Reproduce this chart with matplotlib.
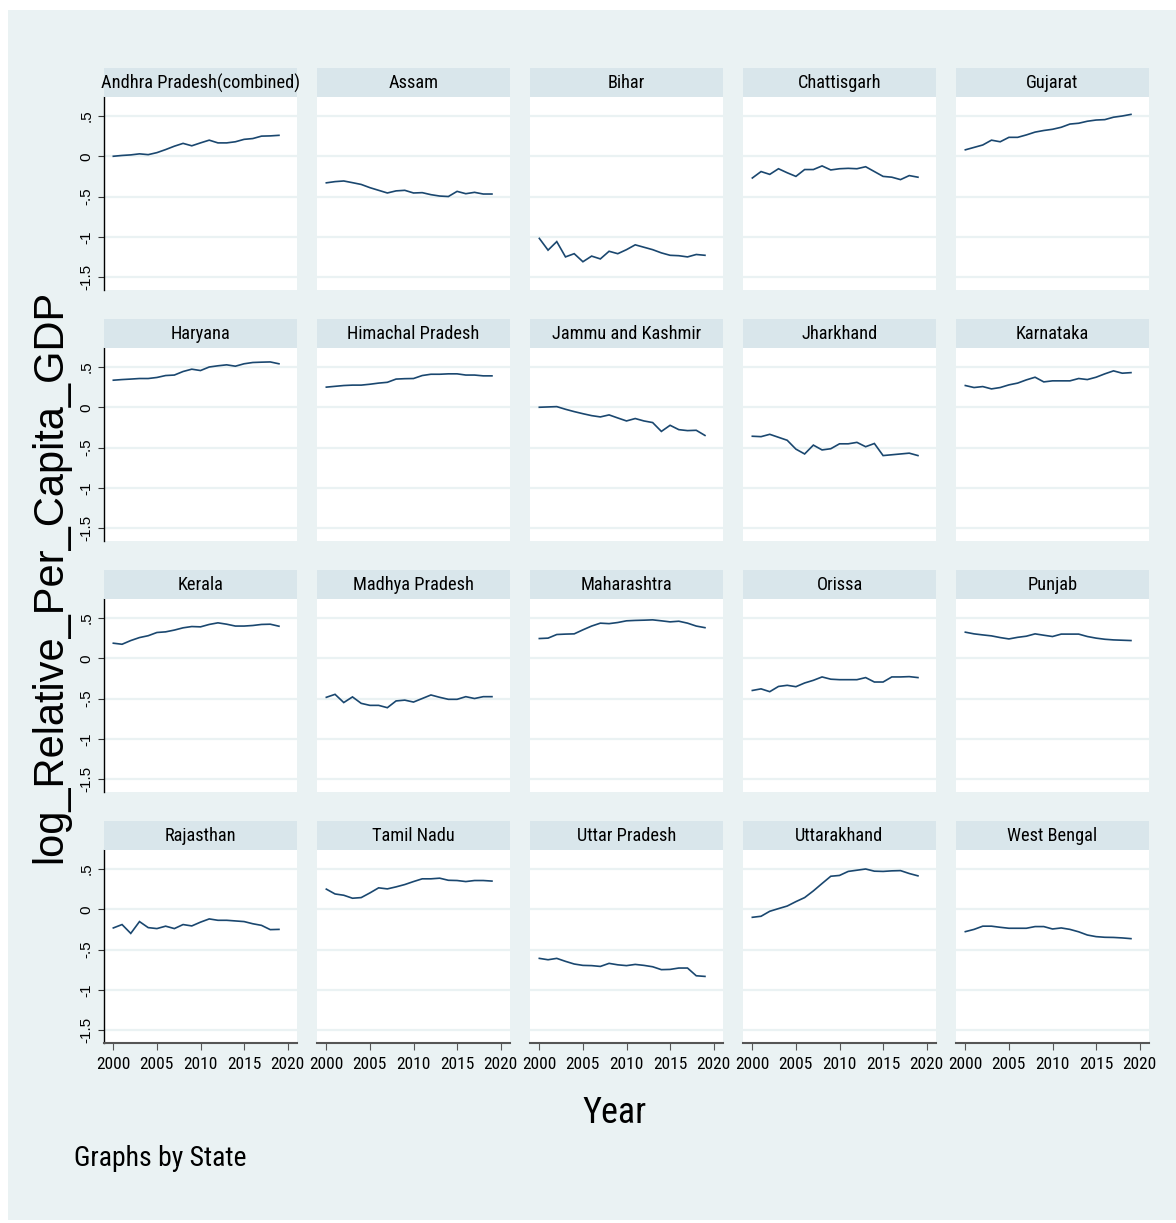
import matplotlib
matplotlib.use("Agg")
import matplotlib.pyplot as plt
from matplotlib.patches import Rectangle
from matplotlib import font_manager

years = list(range(2000, 2020))

states = ["Andhra Pradesh(combined)", "Assam", "Bihar", "Chattisgarh", "Gujarat",
          "Haryana", "Himachal Pradesh", "Jammu and Kashmir", "Jharkhand", "Karnataka",
          "Kerala", "Madhya Pradesh", "Maharashtra", "Orissa", "Punjab",
          "Rajasthan", "Tamil Nadu", "Uttar Pradesh", "Uttarakhand", "West Bengal"]

andhra = [0.00, 0.01, 0.017, 0.03, 0.02, 0.045, 0.083, 0.125, 0.16, 0.13,
          0.166, 0.20, 0.166, 0.166, 0.18, 0.21, 0.22, 0.25, 0.253, 0.26]
assam = [-0.33, -0.315, -0.307, -0.328, -0.35, -0.39, -0.423, -0.456, -0.43, -0.423,
         -0.456, -0.452, -0.477, -0.494, -0.50, -0.436, -0.465, -0.448, -0.469, -0.469]
bihar = [-1.02, -1.166, -1.06, -1.25, -1.21, -1.31, -1.24, -1.275, -1.18, -1.21,
         -1.16, -1.10, -1.13, -1.16, -1.20, -1.23, -1.235, -1.25, -1.22, -1.23]
chattisgarh = [-0.27, -0.19, -0.225, -0.155, -0.205, -0.25, -0.165, -0.165, -0.12, -0.17,
               -0.155, -0.15, -0.155, -0.13, -0.19, -0.25, -0.26, -0.29, -0.24, -0.26]
gujarat = [0.08, 0.11, 0.14, 0.20, 0.18, 0.235, 0.235, 0.265, 0.30, 0.32,
           0.335, 0.36, 0.40, 0.41, 0.435, 0.45, 0.455, 0.485, 0.50, 0.52]
haryana = [0.336, 0.344, 0.35, 0.357, 0.357, 0.37, 0.394, 0.40, 0.444, 0.473,
           0.456, 0.50, 0.515, 0.527, 0.51, 0.54, 0.556, 0.56, 0.563, 0.54]
himachal = [0.25, 0.26, 0.27, 0.275, 0.275, 0.286, 0.30, 0.31, 0.35, 0.355,
            0.357, 0.394, 0.41, 0.41, 0.415, 0.415, 0.40, 0.40, 0.39, 0.39]
jammu = [0.0, 0.004, 0.008, -0.025, -0.054, -0.08, -0.104, -0.12, -0.095, -0.133,
         -0.17, -0.14, -0.17, -0.19, -0.30, -0.224, -0.278, -0.29, -0.286, -0.35]
jharkhand = [-0.36, -0.365, -0.336, -0.373, -0.41, -0.52, -0.58, -0.47, -0.53, -0.515,
             -0.454, -0.454, -0.436, -0.49, -0.45, -0.60, -0.59, -0.58, -0.57, -0.60]
karnataka = [0.27, 0.245, 0.257, 0.228, 0.245, 0.278, 0.30, 0.34, 0.373, 0.315,
             0.328, 0.328, 0.328, 0.357, 0.344, 0.373, 0.415, 0.452, 0.423, 0.43]
kerala = [0.187, 0.174, 0.22, 0.257, 0.28, 0.32, 0.328, 0.35, 0.378, 0.394,
          0.39, 0.42, 0.44, 0.423, 0.40, 0.40, 0.407, 0.42, 0.423, 0.398]
madhya = [-0.485, -0.448, -0.55, -0.48, -0.56, -0.585, -0.585, -0.614, -0.53, -0.52,
          -0.544, -0.50, -0.456, -0.485, -0.51, -0.51, -0.477, -0.50, -0.477, -0.477]
maharashtra = [0.245, 0.25, 0.295, 0.30, 0.303, 0.353, 0.40, 0.436, 0.43, 0.444,
               0.465, 0.47, 0.473, 0.477, 0.465, 0.452, 0.46, 0.436, 0.40, 0.38]
orissa = [-0.40, -0.38, -0.415, -0.35, -0.336, -0.353, -0.307, -0.274, -0.232, -0.26,
          -0.266, -0.266, -0.266, -0.24, -0.295, -0.295, -0.232, -0.232, -0.228, -0.24]
punjab = [0.324, 0.303, 0.29, 0.278, 0.257, 0.24, 0.26, 0.274, 0.303, 0.286,
          0.27, 0.30, 0.30, 0.30, 0.27, 0.25, 0.236, 0.228, 0.224, 0.22]
rajasthan = [-0.232, -0.19, -0.30, -0.153, -0.228, -0.24, -0.21, -0.24, -0.19, -0.207,
             -0.16, -0.12, -0.137, -0.137, -0.145, -0.153, -0.18, -0.20, -0.253, -0.25]
tamil = [0.25, 0.19, 0.174, 0.137, 0.145, 0.203, 0.266, 0.253, 0.278, 0.307,
         0.344, 0.378, 0.378, 0.386, 0.36, 0.357, 0.344, 0.357, 0.357, 0.35]
uttar = [-0.61, -0.627, -0.61, -0.647, -0.68, -0.697, -0.70, -0.71, -0.672, -0.69,
         -0.70, -0.685, -0.697, -0.714, -0.75, -0.747, -0.73, -0.73, -0.826, -0.834]
uttarakhand = [-0.10, -0.087, -0.025, 0.008, 0.04, 0.095, 0.145, 0.228, 0.32, 0.41,
               0.42, 0.47, 0.485, 0.50, 0.473, 0.47, 0.477, 0.48, 0.444, 0.415]
westbengal = [-0.278, -0.25, -0.21, -0.21, -0.224, -0.236, -0.236, -0.236, -0.215, -0.215,
              -0.245, -0.232, -0.25, -0.28, -0.32, -0.34, -0.348, -0.35, -0.356, -0.365]

series = [andhra, assam, bihar, chattisgarh, gujarat,
          haryana, himachal, jammu, jharkhand, karnataka,
          kerala, madhya, maharashtra, orissa, punjab,
          rajasthan, tamil, uttar, uttarakhand, westbengal]

y_ticks = [0.5, 0, -0.5, -1, -1.5]
y_ticklabels = [".5", "0", "-.5", "-1", "-1.5"]
x_ticks = [2000, 2005, 2010, 2015, 2020]
x_ticklabels = ["2000", "2005", "2010", "2015", "2020"]

installed = {f.name for f in font_manager.fontManager.ttflist}
narrow_found = None
for cand in ["Liberation Sans Narrow", "Arial Narrow", "DejaVu Sans Condensed",
             "Roboto Condensed", "Open Sans Condensed"]:
    if cand in installed:
        narrow_found = cand
        break

REG = ["Liberation Sans", "DejaVu Sans"]
if narrow_found:
    NARROW = [narrow_found, "Liberation Sans", "DejaVu Sans"]
    scale = 1.0
else:
    NARROW = REG
    scale = 0.82

W, H = 1176, 1223
BG = "#EAF2F3"
STRIP = "#D9E6EB"
LINE = "#1A476F"

fig = plt.figure(figsize=(W / 100, H / 100), dpi=100, facecolor="white")
fig.patches.append(Rectangle((8 / W, 3 / H), (W - 8) / W, (H - 13) / H,
                             transform=fig.transFigure, facecolor=BG,
                             edgecolor="none", zorder=-10))

col_left = [104, 317, 530, 743, 956]
row_top = [97, 348, 599, 850]
pw, ph = 193, 193
strip_h = 29

for i, (name, vals) in enumerate(zip(states, series)):
    r, c = divmod(i, 5)
    l = col_left[c]
    t = row_top[r]
    ax = fig.add_axes([l / W, 1 - (t + ph) / H, pw / W, ph / H])
    ax.set_facecolor("white")
    ax.plot(years, vals, color=LINE, lw=1.2, solid_joinstyle="miter")
    ax.set_xlim(1998.93, 2021.07)
    ax.set_ylim(-1.661, 0.736)
    ax.set_yticks(y_ticks)
    ax.set_xticks(x_ticks)
    ax.yaxis.grid(True, color=BG, lw=1.6)
    ax.set_axisbelow(True)
    for s in ["top", "right"]:
        ax.spines[s].set_visible(False)
    if c == 0:
        ax.spines["left"].set_color("black")
        ax.spines["left"].set_linewidth(1.0)
        ax.set_yticklabels(y_ticklabels, rotation=90, va="center",
                           family=REG, fontsize=11)
        ax.tick_params(axis="y", length=4.5, width=0.8, pad=3, color="#333333")
    else:
        ax.spines["left"].set_visible(False)
        ax.tick_params(axis="y", left=False, labelleft=False)
    if r == 3:
        ax.spines["bottom"].set_color("#555555")
        ax.spines["bottom"].set_linewidth(1.5)
        ax.set_xticklabels(x_ticklabels, family=NARROW, fontsize=12.5 * scale)
        ax.tick_params(axis="x", length=5, width=0.8, pad=5, color="#555555")
    else:
        ax.spines["bottom"].set_visible(False)
        ax.tick_params(axis="x", bottom=False, labelbottom=False)
    sax = fig.add_axes([l / W, 1 - t / H, pw / W, strip_h / H])
    sax.set_facecolor(STRIP)
    sax.set_xticks([])
    sax.set_yticks([])
    for s in sax.spines.values():
        s.set_visible(False)
    sax.text(0.5, 0.47, name, ha="center", va="center", family=NARROW,
             fontsize=13.2 * scale, transform=sax.transAxes)

fig.text(50 / W, 1 - 576 / H, "log_Relative_Per_Capita_GDP", rotation=90,
         ha="center", va="center", family=REG, fontsize=30)
fig.text(614 / W, 1 - 1113 / H, "Year", ha="center", va="center",
         family=NARROW, fontsize=26 * (1.0 if narrow_found else 0.85))
fig.text(74 / W, 1 - 1158 / H, "Graphs by State", ha="left", va="center",
         family=NARROW, fontsize=20 * scale)

fig.savefig("out.png", dpi=100, facecolor="white")
